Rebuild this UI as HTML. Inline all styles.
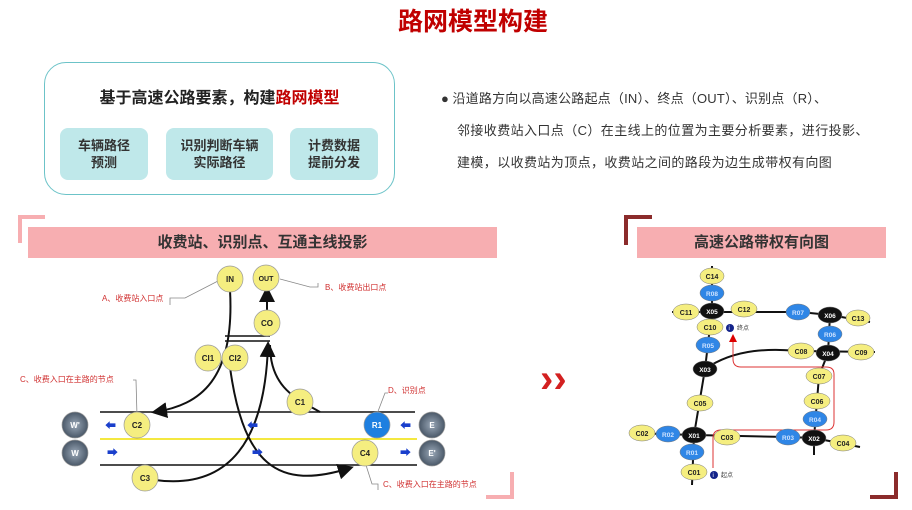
<!DOCTYPE html>
<html><head><meta charset="utf-8"><style>
body{margin:0;width:912px;height:510px;background:#fff;overflow:hidden;font-family:"Liberation Sans","Noto Sans CJK SC",sans-serif;position:relative}
.a{position:absolute}
.sb{background:#bfe8ea;border-radius:8px;text-align:center;font-size:13px;font-weight:bold;color:#333;line-height:17px;display:flex;align-items:center;justify-content:center}
</style></head><body>
<div class="a" style="left:0;width:946px;top:2px;text-align:center;font-size:25px;font-weight:bold;color:#c00000">路网模型构建</div>
<div class="a" style="left:44px;top:62px;width:349px;height:131px;border:1px solid #6cc3c8;border-radius:22px"></div>
<div class="a" style="left:44px;top:84px;width:351px;text-align:center;font-size:16px;font-weight:bold;color:#222">基于高速公路要素，构建<span style="color:#c00000">路网模型</span></div>
<div class="a sb" style="left:60px;top:128px;width:88px;height:52px">车辆路径<br>预测</div>
<div class="a sb" style="left:166px;top:128px;width:107px;height:52px">识别判断车辆<br>实际路径</div>
<div class="a sb" style="left:290px;top:128px;width:88px;height:52px">计费数据<br>提前分发</div>
<div class="a" style="left:441px;top:83px;font-size:13px;color:#333;line-height:32px;white-space:nowrap">● <span style="letter-spacing:0.2px">沿道路方向以高速公路起点（IN）、终点（OUT）、识别点（R）、</span><br><span style="margin-left:16px;letter-spacing:0.4px">邻接收费站入口点（C）在主线上的位置为主要分析要素，进行投影、</span><br><span style="margin-left:16px;letter-spacing:0.4px">建模，以收费站为顶点，收费站之间的路段为边生成带权有向图</span></div>
<div class="a" style="left:28px;top:227px;width:469px;height:31px;background:#f7aeb1;text-align:center;line-height:31px;font-size:15px;font-weight:bold;color:#333">收费站、识别点、互通主线投影</div>
<div class="a" style="left:637px;top:227px;width:249px;height:31px;background:#f7aeb1;text-align:center;line-height:31px;font-size:15px;font-weight:bold;color:#333">高速公路带权有向图</div>
<svg class="a" style="left:0;top:0" width="912" height="510" font-family="Liberation Sans, Noto Sans CJK SC, sans-serif">
<defs><marker id="ar" markerWidth="8" markerHeight="8" refX="6" refY="4" orient="auto"><path d="M0,0L8,4L0,8z" fill="#111"/></marker>
<marker id="rr" markerWidth="8" markerHeight="8" refX="6" refY="4" orient="auto"><path d="M0,0L8,4L0,8z" fill="#d00"/></marker>
<radialGradient id="gg"><stop offset="0" stop-color="#9aa8b8"/><stop offset="1" stop-color="#4a5868"/></radialGradient></defs>
<g fill="none" stroke-width="4"><path d="M20,243V217H45" stroke="#f7aeb1"/><path d="M512,472V497H486" stroke="#f7aeb1"/><path d="M626,245V217H652" stroke="#8b2b2b"/><path d="M896,472V497H870" stroke="#8b2b2b"/></g>
<text x="540" y="392" font-size="40" font-weight="bold" fill="#d32020">››</text>
<g stroke="#111" stroke-width="1.5" fill="none">
<line x1="100" y1="412" x2="415" y2="412"/><line x1="100" y1="465" x2="417" y2="465"/>
<line x1="100" y1="439" x2="417" y2="439" stroke="#f0e000"/>
<line x1="225" y1="336" x2="270" y2="336"/><line x1="225" y1="341" x2="270" y2="341"/>
<path d="M230,290C235,380 200,405 155,412" marker-end="url(#ar)" stroke-width="2"/>
<path d="M228,350C240,470 280,490 350,468" marker-end="url(#ar)" stroke-width="2"/>
<path d="M155,480C230,490 265,440 268,345" marker-end="url(#ar)" stroke-width="2"/>
<path d="M270,345C270,390 300,400 320,412" stroke-width="2"/>
<path d="M267,314V290" marker-end="url(#ar)" stroke-width="2"/>
<g stroke="#888" stroke-width="0.8"><path d="M218,281L185,298H170V305"/><path d="M280,279L310,287H318V283"/><path d="M137,416L136,380H133"/><path d="M377,414L385,393H388"/><path d="M365,462L372,484H378V490"/></g>
</g>
<g fill="#1a3fcc" font-size="11"><text x="105" y="429">⬅</text><text x="247" y="429">⬅</text><text x="400" y="429">⬅</text><text x="107" y="456">➡</text><text x="252" y="456">➡</text><text x="400" y="456">➡</text></g>
<g fill="#d03030" font-size="8"><text x="102" y="301">A、收费站入口点</text><text x="325" y="290">B、收费站出口点</text><text x="20" y="382">C、收费入口在主路的节点</text><text x="388" y="393">D、识别点</text><text x="383" y="487">C、收费入口在主路的节点</text></g>
<g font-size="8" font-weight="bold" text-anchor="middle" stroke="#999" stroke-width="0.7">
<g fill="#f5ee80"><circle cx="230" cy="279" r="13"/><circle cx="266" cy="278" r="13"/><circle cx="267" cy="323" r="13"/><circle cx="208" cy="358" r="13"/><circle cx="235" cy="358" r="13"/><circle cx="300" cy="402" r="13"/><circle cx="137" cy="425" r="13"/><circle cx="365" cy="453" r="13"/><circle cx="145" cy="478" r="13"/></g>
<circle cx="377" cy="425" r="13" fill="#1e7fe0"/>
<g fill="url(#gg)"><circle cx="432" cy="425" r="13"/><circle cx="75" cy="425" r="13"/><circle cx="75" cy="453" r="13"/><circle cx="432" cy="453" r="13"/></g>
<g stroke="none" fill="#222"><text x="230" y="282">IN</text><text x="266" y="281" font-size="7">OUT</text><text x="267" y="326">CO</text><text x="208" y="361">CI1</text><text x="235" y="361">CI2</text><text x="300" y="405">C1</text><text x="137" y="428">C2</text><text x="365" y="456">C4</text><text x="145" y="481">C3</text></g>
<g stroke="none" fill="#fff"><text x="377" y="428">R1</text><text x="432" y="428">E</text><text x="75" y="428">W'</text><text x="75" y="456">W</text><text x="432" y="456">E'</text></g>
</g>
<g stroke="#111" stroke-width="2" fill="none">
<path d="M712,266V327M672,312H750L800,312L830,315L870,322"/>
<path d="M710,327L705,369L694,435L692,485"/>
<path d="M705,369C740,345 780,350 801,351L875,352"/>
<path d="M830,315L828,353L819,376L814,438L814,455"/>
<path d="M630,433L694,435L788,437L814,438L860,447"/>
</g>
<path d="M713,468V438Q713,430 721,430H826Q834,430 834,422V374Q834,367 826,367H741Q733,367 733,359V336" fill="none" stroke="#d33" stroke-width="1" marker-end="url(#rr)"/>
<g font-size="7" font-weight="bold" text-anchor="middle" stroke="#777" stroke-width="0.5">
<g fill="#f5ee80"><ellipse cx="712" cy="276" rx="12" ry="8"/><ellipse cx="686" cy="312" rx="13" ry="8"/><ellipse cx="744" cy="309" rx="13" ry="8"/><ellipse cx="710" cy="327" rx="13" ry="8"/><ellipse cx="801" cy="351" rx="13" ry="8"/><ellipse cx="861" cy="352" rx="13" ry="8"/><ellipse cx="858" cy="318" rx="12" ry="8"/><ellipse cx="819" cy="376" rx="13" ry="8"/><ellipse cx="817" cy="401" rx="13" ry="8"/><ellipse cx="843" cy="443" rx="13" ry="8"/><ellipse cx="727" cy="437" rx="13" ry="8"/><ellipse cx="642" cy="433" rx="13" ry="8"/><ellipse cx="694" cy="472" rx="13" ry="8"/><ellipse cx="700" cy="403" rx="13" ry="8"/></g>
<g fill="#2f86e6"><ellipse cx="712" cy="293" rx="12" ry="8"/><ellipse cx="708" cy="345" rx="12" ry="8"/><ellipse cx="798" cy="312" rx="12" ry="8"/><ellipse cx="830" cy="334" rx="12" ry="8"/><ellipse cx="815" cy="419" rx="12" ry="8"/><ellipse cx="788" cy="437" rx="12" ry="8"/><ellipse cx="668" cy="434" rx="12" ry="8"/><ellipse cx="692" cy="452" rx="12" ry="8"/></g>
<g fill="#111"><ellipse cx="712" cy="311" rx="12" ry="8"/><ellipse cx="705" cy="369" rx="12" ry="8"/><ellipse cx="828" cy="353" rx="12" ry="8"/><ellipse cx="830" cy="315" rx="12" ry="8"/><ellipse cx="814" cy="438" rx="12" ry="8"/><ellipse cx="694" cy="435" rx="12" ry="8"/></g>
<g stroke="none" fill="#222"><text x="712" y="279">C14</text><text x="686" y="315">C11</text><text x="744" y="312">C12</text><text x="710" y="330">C10</text><text x="801" y="354">C08</text><text x="861" y="355">C09</text><text x="858" y="321">C13</text><text x="819" y="379">C07</text><text x="817" y="404">C06</text><text x="843" y="446">C04</text><text x="727" y="440">C03</text><text x="642" y="436">C02</text><text x="694" y="475">C01</text><text x="700" y="406">C05</text></g>
<g stroke="none" fill="#cfe3ff" font-size="6.5"><text x="712" y="296">R08</text><text x="708" y="348">R05</text><text x="798" y="315">R07</text><text x="830" y="337">R06</text><text x="815" y="422">R04</text><text x="788" y="440">R03</text><text x="668" y="437">R02</text><text x="692" y="455">R01</text></g>
<g stroke="none" fill="#fff" font-size="6.5"><text x="712" y="314">X05</text><text x="705" y="372">X03</text><text x="828" y="356">X04</text><text x="830" y="318">X06</text><text x="814" y="441">X02</text><text x="694" y="438">X01</text></g>
</g>
<g font-size="6"><circle cx="730" cy="328" r="4" fill="#13238a"/><text x="728.5" y="330" fill="#fff">i</text><text x="737" y="330" fill="#333">终点</text>
<circle cx="714" cy="475" r="4" fill="#13238a"/><text x="712.5" y="477" fill="#fff">i</text><text x="721" y="477" fill="#333">起点</text></g>
</svg>
</body></html>
